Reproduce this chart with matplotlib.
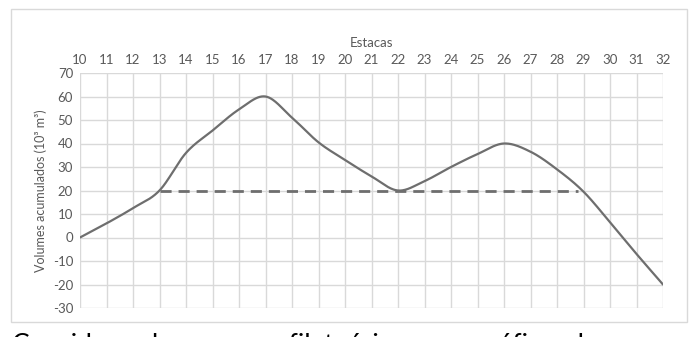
import numpy as np
import matplotlib
matplotlib.use("Agg")
import matplotlib.pyplot as plt
from matplotlib.patches import Rectangle

plt.rcParams['font.family'] = ['Lato', 'DejaVu Sans']
plt.rcParams['axes.unicode_minus'] = False

# Data
estacas = [10, 11, 12, 13, 14, 15, 16, 17, 18, 19, 20, 21, 22, 23, 24, 25, 26, 27, 28, 29, 30, 31, 32]
volumes = [0, 6, 12.5, 20, 36, 45.5, 54.5, 60, 51, 40.5, 33, 26, 20, 24, 30, 35.5, 40, 36.5, 29, 19.5, 6.5, -7, -20]
dash_x = [13, 28.8]
dash_y = [20, 20]
yticks = [-30, -20, -10, 0, 10, 20, 30, 40, 50, 60, 70]

def smooth(xs, ys, n=30):
    P = np.column_stack([xs, ys]).astype(float)
    P = np.vstack([P[0], P, P[-1]])
    out = []
    for i in range(1, len(P) - 2):
        p0, p1, p2, p3 = P[i - 1], P[i], P[i + 1], P[i + 2]
        c1 = p1 + (p2 - p0) / 6
        c2 = p2 - (p3 - p1) / 6
        t = np.linspace(0, 1, n)[:, None]
        seg = (1 - t) ** 3 * p1 + 3 * (1 - t) ** 2 * t * c1 + 3 * (1 - t) * t ** 2 * c2 + t ** 3 * p2
        out.append(seg if i == 1 else seg[1:])
    out = np.vstack(out)
    return out[:, 0], out[:, 1]

fig = plt.figure(figsize=(6.98, 3.37), dpi=100)
ax = fig.add_axes([80/698, 1-308/337, (663-80)/698, (308-73)/337])

sx, sy = smooth(estacas, volumes)
ax.plot(sx, sy, color='#6e6e6e', lw=1.6, solid_capstyle='round', zorder=3)
ax.plot(dash_x, dash_y, color='#6e6e6e', lw=2.0, dashes=(4, 2.5), zorder=3)

ax.set_xlim(10, 32)
ax.set_ylim(-30, 70)
ax.set_xticks(estacas)
ax.set_yticks(yticks)
ax.xaxis.tick_top()
ax.xaxis.set_label_position('top')
ax.set_xlabel('Estacas', color='#595959', fontsize=9.5, labelpad=5)
ax.set_ylabel('Volumes acumulados (10³ m³)', color='#595959', fontsize=9, labelpad=4)
ax.tick_params(axis='both', length=0, labelsize=9.5, labelcolor='#595959', pad=5)
ax.grid(True, color='#d9d9d9', lw=1.0)
ax.set_axisbelow(True)
for s in ax.spines.values():
    s.set_visible(False)

# outer chart border
fig.patches.append(Rectangle((11/698, 1-322/337), (687-11)/698, (322-9)/337,
                             transform=fig.transFigure, fill=False,
                             edgecolor='#d9d9d9', lw=1.0))

fig.text(12/698, -0.062, 'Considerando-se  o  perfil  teórico  e  o  gráfico  de  massas  de  terra  fornecido,',
         fontsize=19, color='black', ha='left', va='bottom')

fig.savefig('out.png', dpi=100)
